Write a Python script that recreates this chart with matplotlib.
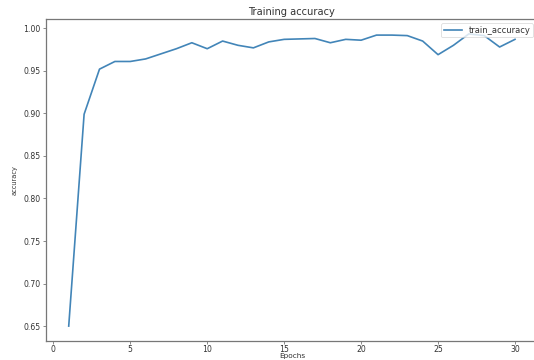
import matplotlib
matplotlib.use("Agg")
import matplotlib.pyplot as plt

# Per-epoch training accuracy
epochs = list(range(1, 31))
train_accuracy = [
    0.650, 0.899, 0.952, 0.961, 0.961, 0.964, 0.970, 0.976, 0.983, 0.976,
    0.985, 0.980, 0.977, 0.984, 0.987, 0.9875, 0.988, 0.983, 0.987, 0.986,
    0.992, 0.992, 0.9914, 0.985, 0.969, 0.980, 0.9934, 0.9914, 0.978, 0.987,
]
x_ticks = [0, 5, 10, 15, 20, 25, 30]
y_ticks = [0.65, 0.70, 0.75, 0.80, 0.85, 0.90, 0.95, 1.00]

text_color = "#333333"
spine_color = "#777777"

fig = plt.figure(figsize=(5.34, 3.6), dpi=100)
ax = fig.add_axes([0.0869, 0.0536, 0.9193, 0.8928])

ax.plot(epochs, train_accuracy, color="#4285b8", linewidth=1.2,
        label="train_accuracy")

ax.set_xticks(x_ticks)
ax.set_yticks(y_ticks)
ax.set_yticklabels([f"{v:.2f}" for v in y_ticks])
ax.tick_params(axis="both", labelsize=5.6, length=2.5, width=0.6,
               pad=2.0, colors=spine_color, labelcolor=text_color)
ax.tick_params(axis="x", length=2.0, pad=1.0)

for side in ("top", "bottom", "left"):
    ax.spines[side].set_color(spine_color)
    ax.spines[side].set_linewidth(0.9)
ax.spines["right"].set_visible(False)

ax.set_title("Training accuracy", fontsize=7.1, color=text_color, pad=3)
ax.set_xlabel("Epochs", fontsize=5.3, color=text_color, labelpad=-0.8)
ax.set_ylabel("accuracy", fontsize=4.8, color=text_color, labelpad=4)

leg = ax.legend(loc="upper right", fontsize=6, frameon=True,
                borderaxespad=0.5, handlelength=2.2, borderpad=0.3,
                labelcolor=text_color)
leg.get_frame().set_linewidth(0.5)
leg.get_frame().set_edgecolor("#cccccc")

fig.savefig("out.png", dpi=100)
